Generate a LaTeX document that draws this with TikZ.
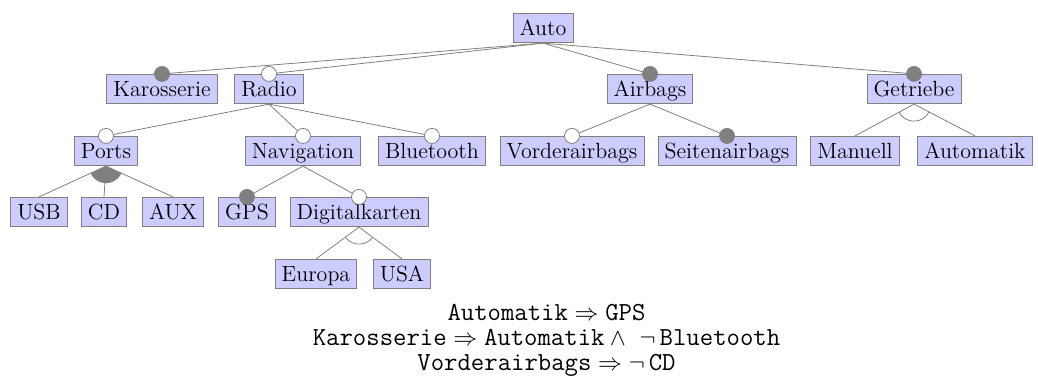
\documentclass[tikz,border=0pt]{standalone}
\usetikzlibrary{calc}

\tikzset{
  feat/.style={draw=gray, fill=blue!20, font=\fontsize{11}{13}\selectfont,
    text height=8pt, text depth=0.3pt, inner xsep=3.3pt, inner ysep=3.2pt},
  edge/.style={draw=gray, line width=0.4pt},
  mand/.style={circle, draw=gray, fill=gray, inner sep=0pt, minimum size=7.5pt},
  opt/.style={circle, draw=gray, fill=white, inner sep=0pt, minimum size=7.5pt},
  constr/.style={anchor=base, inner sep=0pt, text height=8.5pt, text depth=2.5pt,
    font=\fontsize{13}{14}\selectfont},
}

% alternative group: open arc between the first and the last child edge
\newcommand{\altgroup}[3]{%
  \draw[edge] let \p1=($(#2.north)-(#1.south)$), \p2=($(#3.north)-(#1.south)$),
    \n1={atan2(\y1,\x1)}, \n2={atan2(\y2,\x2)} in
    ($(#1.south)+(\n1:8.5pt)$) arc[start angle=\n1, end angle=\n2, radius=8.5pt];
}
% or group: filled sector between the first and the last child edge
\newcommand{\orgroup}[3]{%
  \fill[gray] let \p1=($(#2.north)-(#1.south)$), \p2=($(#3.north)-(#1.south)$),
    \n1={atan2(\y1,\x1)}, \n2={atan2(\y2,\x2)} in
    (#1.south) -- ($(#1.south)+(\n1:8.5pt)$) arc[start angle=\n1, end angle=\n2, radius=8.5pt] -- cycle;
}

\begin{document}
\begin{tikzpicture}[x=0.5pt, y=-0.5pt]
\useasboundingbox (0,0) rectangle (1038,388);

% features
\node[feat] (auto) at (543,28) {Auto};

\node[feat] (karo)     at (162,89) {Karosserie};
\node[feat] (radio)    at (269,89) {Radio};
\node[feat] (airbags)  at (650,89) {Airbags};
\node[feat] (getriebe) at (914,89) {Getriebe};

\node[feat] (ports)     at (106,151) {Ports};
\node[feat] (navi)      at (303,151) {Navigation};
\node[feat] (bt)        at (432,151) {Bluetooth};
\node[feat] (vorder)    at (572,151) {Vorderairbags};
\node[feat] (seiten)    at (727,151) {Seitenairbags};
\node[feat] (manuell)   at (855,151) {Manuell};
\node[feat] (automatik) at (975,151) {Automatik};

\node[feat] (usb)  at (39,212)  {USB};
\node[feat] (cd)   at (104,212) {CD};
\node[feat] (aux)  at (173,212) {AUX};
\node[feat] (gps)  at (247,212) {GPS};
\node[feat] (digi) at (359,212) {Digitalkarten};

\node[feat] (europa) at (316,274) {Europa};
\node[feat] (usa)    at (402,274) {USA};

% edges
\foreach \p/\c in {auto/karo, auto/radio, auto/airbags, auto/getriebe,
                   radio/ports, radio/navi, radio/bt,
                   ports/usb, ports/cd, ports/aux,
                   navi/gps, navi/digi,
                   digi/europa, digi/usa,
                   airbags/vorder, airbags/seiten,
                   getriebe/manuell, getriebe/automatik}
  \draw[edge] (\p.south) -- (\c.north);

% groups
\orgroup{ports}{usb}{aux}
\altgroup{digi}{europa}{usa}
\altgroup{getriebe}{manuell}{automatik}

% mandatory and optional markers
\foreach \c in {karo, airbags, getriebe, gps, seiten}
  \node[mand] at (\c.north) {};
\foreach \c in {radio, ports, navi, bt, digi, vorder}
  \node[opt] at (\c.north) {};

% cross-tree constraints
\node[constr] (c1) at (546.5,320)
  {$\texttt{Automatik}\Rightarrow\texttt{GPS}$};
\node[constr] (c2) at (546.5,345.5)
  {$\texttt{Karosserie}\Rightarrow\texttt{Automatik}\wedge\ \neg\,\texttt{Bluetooth}$};
\node[constr] (c3) at (546.5,370.5)
  {$\texttt{Vorderairbags}\Rightarrow\neg\,\texttt{CD}$};
\end{tikzpicture}
\end{document}
